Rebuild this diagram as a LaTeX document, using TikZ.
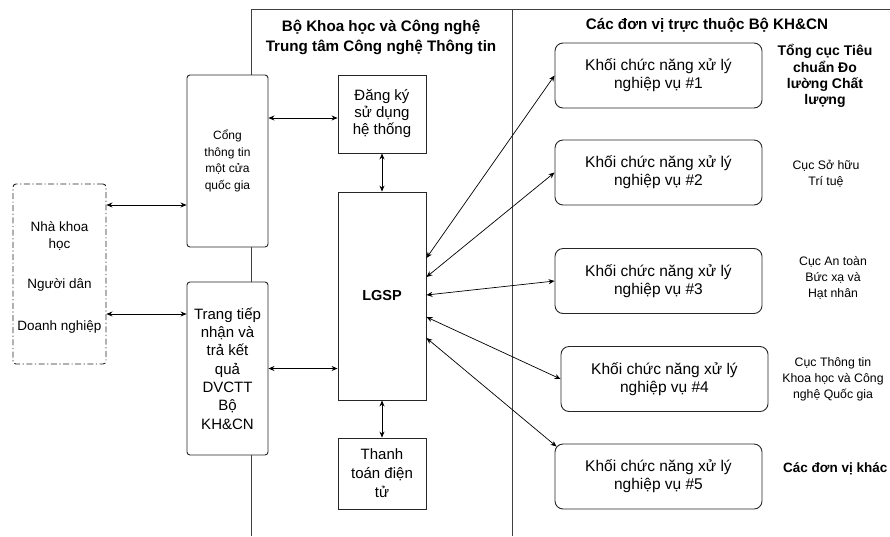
\documentclass[tikz,border=0pt]{standalone}
\usepackage{fontspec}
\setmainfont{Liberation Sans}
\usetikzlibrary{arrows.meta,calc}
\begin{document}
\begin{tikzpicture}[x=1pt,y=-1pt,
  frame/.style={draw=black!75, line width=1pt},
  sqbox/.style={draw=black!85, line width=0.9pt, fill=white, align=center, inner sep=1pt},
  rbox/.style={sqbox, rounded corners=3pt},
  fbox/.style={sqbox, rounded corners=8pt, minimum width=207pt, minimum height=65pt,
               font=\fontsize{15.5}{18}\selectfont},
  dbox/.style={draw=black!85, line width=0.9pt, rounded corners=3pt,
               dash pattern=on 6pt off 2.5pt on 1.2pt off 2.5pt},
  txt/.style={align=center, inner sep=0pt},
  dbl/.style={{Stealth[length=6pt,width=5pt]}-{Stealth[length=6pt,width=5pt]}, line width=0.7pt, black},
  hdr/.style={txt, font=\fontsize{15.2}{20}\selectfont\bfseries},
  lblb/.style={txt, font=\fontsize{14}{16.3}\selectfont\bfseries},
  lbls/.style={txt, font=\fontsize{12.3}{16}\selectfont}
]
\useasboundingbox (0,0) rectangle (890,536);

% frame lines
\draw[frame] (251,536) -- (251,9) -- (890,9);
\draw[frame] (512,9) -- (512,536);

% headers
\node[hdr] (h1) at (381,37) {Bộ Khoa học và Công nghệ\\Trung tâm Công nghệ Thông tin};
\node[hdr] (h2) at (707,25) {Các đơn vị trực thuộc Bộ KH\&CN};

% left dashed box
\node[dbox, minimum width=93pt, minimum height=180pt] (users) at (59.5,274) {};
\node[txt, font=\fontsize{13.5}{17}\selectfont] (u1) at (59.5,236.5) {Nhà khoa\\học};
\node[txt, font=\fontsize{13.5}{17}\selectfont] (u2) at (59.5,285) {Người dân};
\node[txt, font=\fontsize{13.5}{17}\selectfont] (u3) at (59.5,327) {Doanh nghiệp};

% portal boxes
\node[rbox, minimum width=81pt, minimum height=172pt, font=\fontsize{12}{16.5}\selectfont] (cong) at (227.5,161)
  {Cổng\\thông tin\\một cửa\\quốc gia};
\node[rbox, minimum width=81pt, minimum height=173pt, font=\fontsize{15}{18.3}\selectfont] (trang) at (227.5,368.5)
  {Trang tiếp\\nhận và\\trả kết\\quả\\DVCTT\\Bộ\\KH\&CN};

% center column
\node[sqbox, minimum width=88pt, minimum height=78pt, font=\fontsize{15}{17}\selectfont] (dk) at (382,114)
  {Đăng ký\\sử dụng\\hệ thống};
\node[sqbox, minimum width=88pt, minimum height=208pt, font=\fontsize{14.5}{17}\selectfont\bfseries] (lgsp) at (382,296) {LGSP};
\node[sqbox, minimum width=88pt, minimum height=71pt, font=\fontsize{15}{19}\selectfont] (tt) at (382,473.5)
  {Thanh\\toán điện\\tử};

% right boxes
\node[fbox] (b1) at (658.5,75.5) {Khối chức năng xử lý\\nghiệp vụ \#1};
\node[fbox] (b2) at (658.5,172.5) {Khối chức năng xử lý\\nghiệp vụ \#2};
\node[fbox] (b3) at (658.5,281) {Khối chức năng xử lý\\nghiệp vụ \#3};
\node[fbox] (b4) at (664.5,379) {Khối chức năng xử lý\\nghiệp vụ \#4};
\node[fbox] (b5) at (658.5,476.5) {Khối chức năng xử lý\\nghiệp vụ \#5};

% right labels
\node[lblb] (l1) at (825,76) {Tổng cục Tiêu\\chuẩn Đo\\lường Chất\\lượng};
\node[lbls] (l2) at (826,173.5) {Cục Sở hữu\\Trí tuệ};
\node[lbls] (l3) at (833,278) {Cục An toàn\\Bức xạ và\\Hạt nhân};
\node[lbls] (l4) at (833,379) {Cục Thông tin\\Khoa học và Công\\nghệ Quốc gia};
\node[lblb, anchor=east, font=\fontsize{13.5}{16}\selectfont\bfseries] (l5) at (887.5,469) {Các đơn vị khác};

% connectors left
\coordinate (p1) at ([yshift=69pt]users.east);
\draw[dbl] (p1) -- (p1 -| cong.west);
\coordinate (p2) at ([yshift=-40pt]users.east);
\draw[dbl] (p2) -- (p2 -| trang.west);
\coordinate (p3) at ([yshift=43pt]cong.east);
\draw[dbl] (p3) -- (p3 -| dk.west);
\draw[dbl] (trang.east) -- (trang.east -| lgsp.west);
\draw[dbl] (dk.south) -- (lgsp.north);
\draw[dbl] (lgsp.south) -- (tt.north);

% connectors right
\draw[dbl] ([yshift=38pt]lgsp.east) -- (b1.west);
\draw[dbl] ([yshift=19pt]lgsp.east) -- (b2.west);
\draw[dbl] ([yshift=1pt]lgsp.east) -- (b3.west);
\draw[dbl] ([yshift=-21pt]lgsp.east) -- (b4.west);
\draw[dbl] ([yshift=-42pt]lgsp.east) -- ([xshift=2pt,yshift=-3pt]b5.north west);
\end{tikzpicture}
\end{document}
